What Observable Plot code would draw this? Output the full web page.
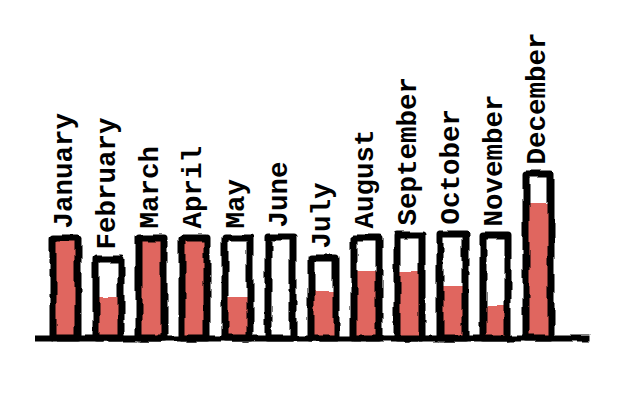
<!DOCTYPE html>
<html>
<head>
<meta charset="utf-8">
<script src="https://cdn.jsdelivr.net/npm/d3@7"></script>
<script src="https://cdn.jsdelivr.net/npm/@observablehq/plot@0.6"></script>
<style>
  html, body { margin: 0; padding: 0; background: #fff; }
</style>
</head>
<body>
<div id="chart"></div>
<script>
const months = ["January","February","March","April","May","June","July","August","September","October","November","December"];
const totals = [100, 79, 100, 100, 100, 101, 80, 100, 103, 104, 102, 164];
const filled = [100, 41, 100, 100, 41, 0, 46, 66, 67, 52, 32, 135];

const data = months.map((m, i) => ({month: m, total: totals[i], filled: filled[i]}));

const chart = Plot.plot({
  width: 621,
  height: 396,
  marginLeft: 31,
  marginRight: 48.5,
  marginTop: 20,
  marginBottom: 58,
  x: {domain: months, padding: 0.42, axis: null},
  y: {domain: [0, 318], axis: null},
  style: {background: "#fff", overflow: "visible"},
  marks: [
    Plot.barY(data, {x: "month", y: "filled", fill: "#e0665f"}),
    Plot.barY(data, {x: "month", y: "total", fill: "none", stroke: "#000", strokeWidth: 7, strokeLinejoin: "round"}),
    Plot.ruleY([0], {stroke: "#000", strokeWidth: 6, insetLeft: 4, insetRight: -18}),
    Plot.text(data, {
      x: "month", y: "total", text: "month",
      rotate: -90, textAnchor: "start", dy: -10, dx: -3,
      fontSize: 27.5, fontWeight: "bold", fontFamily: "Liberation Mono, Courier New, monospace",
      fill: "#000"
    })
  ]
});

const svg = d3.select(chart);
const defs = svg.insert("defs", ":first-child");
const f = defs.append("filter").attr("id", "rough")
  .attr("filterUnits", "userSpaceOnUse")
  .attr("x", 0).attr("y", 0).attr("width", 621).attr("height", 396);
f.append("feTurbulence").attr("type", "fractalNoise").attr("baseFrequency", 0.05).attr("numOctaves", 2).attr("seed", 3).attr("result", "noise");
f.append("feDisplacementMap").attr("in", "SourceGraphic").attr("in2", "noise").attr("scale", 5).attr("xChannelSelector", "R").attr("yChannelSelector", "G");
svg.selectAll("g[aria-label='bar'], g[aria-label='rule']").attr("filter", "url(#rough)");

document.getElementById("chart").appendChild(chart);
</script>
</body>
</html>
